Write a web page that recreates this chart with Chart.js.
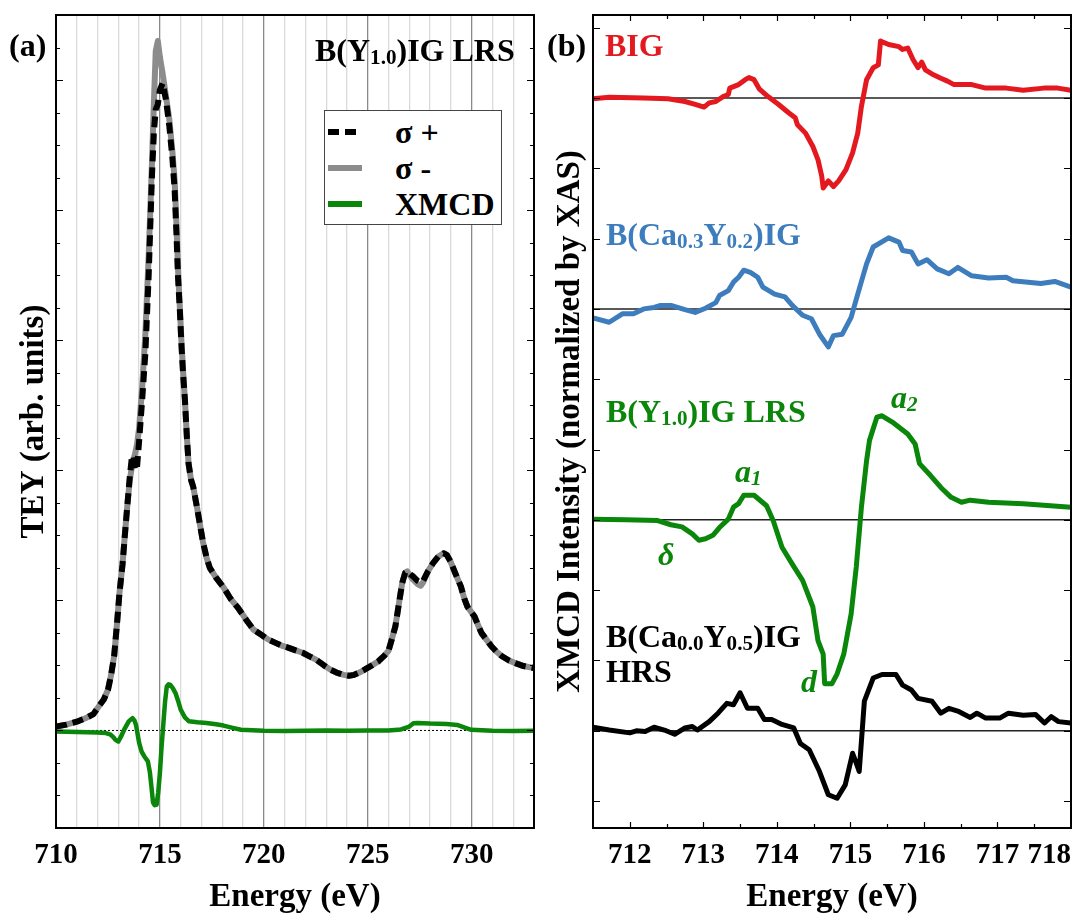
<!DOCTYPE html>
<html>
<head>
<meta charset="utf-8">
<script src="https://cdn.jsdelivr.net/npm/chart.js@4.4.1/dist/chart.umd.min.js"></script>
<style>
body{margin:0;width:1081px;height:920px;background:#fff;overflow:hidden;position:relative;
  font-family:'Liberation Serif','DejaVu Serif',serif;font-weight:bold;color:#000}
.wrap{position:absolute;top:0;height:920px}
.lbl{position:absolute;font-size:32px;line-height:32px;white-space:nowrap}
.lbl sub{font-size:0.66em;line-height:0;vertical-align:-0.16em}
.it{font-style:italic}
#legend{position:absolute;left:324px;top:110px;width:176px;height:113px;border:1.5px solid #444;background:#fff}
#legend .row{position:absolute;left:0;width:176px;height:32px}
#legend svg{position:absolute;left:3px;top:12px}
#legend span{position:absolute;left:70px;top:0;font-size:32px;line-height:32px}
</style>
</head>
<body>

<div class="wrap" style="left:0;width:545px"><canvas id="chartA"></canvas></div>
<div class="wrap" style="left:545px;width:536px"><canvas id="chartB"></canvas></div>

<!-- panel (a) texts -->
<div class="lbl" style="left:9px;top:29px">(a)</div>
<div class="lbl" style="left:315px;top:34px">B(Y<sub>1.0</sub>)IG LRS</div>
<div id="legend">
  <div class="row" style="top:5px">
    <svg width="34" height="8"><line x1="0" y1="4" x2="34" y2="4" stroke="#000" stroke-width="6" stroke-dasharray="11,6"/></svg>
    <span>σ +</span>
  </div>
  <div class="row" style="top:41px">
    <svg width="34" height="8"><line x1="0" y1="4" x2="34" y2="4" stroke="#8c8c8c" stroke-width="6"/></svg>
    <span>σ -</span>
  </div>
  <div class="row" style="top:77px">
    <svg width="34" height="8"><line x1="0" y1="4" x2="34" y2="4" stroke="#0a860a" stroke-width="6"/></svg>
    <span>XMCD</span>
  </div>
</div>

<!-- panel (b) texts -->
<div class="lbl" style="left:547px;top:29px">(b)</div>
<div class="lbl" style="left:605px;top:29px;color:#e3191f">BIG</div>
<div class="lbl" style="left:606px;top:218px;color:#3d7dbd">B(Ca<sub>0.3</sub>Y<sub>0.2</sub>)IG</div>
<div class="lbl" style="left:606px;top:395px;color:#0a860a">B(Y<sub>1.0</sub>)IG LRS</div>
<div class="lbl it" style="left:891px;top:381px;color:#0a860a">a<sub>2</sub></div>
<div class="lbl it" style="left:735px;top:455px;color:#0a860a">a<sub>1</sub></div>
<div class="lbl it" style="left:658px;top:538px;color:#0a860a">δ</div>
<div class="lbl it" style="left:801px;top:665px;color:#0a860a">d</div>
<div class="lbl" style="left:606px;top:620px">B(Ca<sub>0.0</sub>Y<sub>0.5</sub>)IG</div>
<div class="lbl" style="left:606px;top:655px">HRS</div>

<script>
// ---- panel (a): TEY spectra, energies in eV ----
let eA = [710.0,710.5,711.0,711.5,711.8,712.1,712.3,712.5,712.65,712.8,
712.95,713.05,713.2,713.3,713.43,713.55,713.65,713.72,713.8,713.9,
714.0,714.15,714.3,714.46,714.62,714.71,714.8,714.9,715.0,715.13,
715.29,715.45,715.6,715.71,715.8,715.87,715.96,716.04,716.12,716.2,
716.3,716.38,716.5,716.6,716.8,717.07,717.25,717.4,717.7,718.06,
718.4,718.72,719.0,719.22,719.5,719.88,720.2,720.54,720.9,721.2,
721.5,721.87,722.2,722.53,722.9,723.2,723.5,723.85,724.1,724.35,
724.6,724.85,725.2,725.5,725.8,726.0,726.2,726.33,726.5,726.66,
726.8,726.9,727.05,727.16,727.4,727.55,727.66,727.9,728.15,728.4,
728.65,728.8,728.98,729.2,729.48,729.65,729.8,730.14,730.3,730.47,
730.7,730.96,731.2,731.46,731.8,732.1,732.5,733.0];

let sigmaPlus = [0.12,0.18,0.27,0.4,0.5,0.78,0.95,1.25,1.7,2.3,
3.4,4.2,5.1,5.9,6.9,7.8,8.4,8.45,8.0,8.1,
8.9,10.2,11.6,14.0,17.1,18.4,19.1,19.25,19.7,19.9,
19.4,18.6,17.6,16.6,15.2,13.95,12.9,11.8,10.9,10.2,
9.0,8.2,7.7,7.5,6.8,5.8,5.3,5.0,4.7,4.4,
4.05,3.8,3.55,3.34,3.1,2.94,2.8,2.7,2.6,2.54,
2.47,2.39,2.28,2.17,2.0,1.87,1.78,1.71,1.68,1.71,
1.78,1.87,2.0,2.12,2.3,2.45,2.9,3.2,3.9,4.54,
4.85,4.89,4.8,4.75,4.6,4.55,4.6,4.9,5.15,5.35,
5.45,5.4,5.2,4.85,4.43,4.05,3.8,3.5,3.25,3.0,
2.8,2.58,2.42,2.28,2.15,2.07,1.98,1.92];

let sigmaMinus = [0.12,0.18,0.27,0.4,0.5,0.78,0.95,1.25,1.7,2.3,
3.4,4.2,5.1,5.9,6.9,7.7,8.1,8.3,8.5,8.8,
9.3,10.6,12.2,14.6,17.5,19.3,20.9,21.2,20.7,20.2,
19.5,18.8,17.8,16.9,15.5,14.2,13.0,11.9,11.0,10.2,
9.0,8.2,7.7,7.5,6.8,5.8,5.3,5.0,4.7,4.4,
4.05,3.8,3.55,3.34,3.1,2.94,2.8,2.7,2.6,2.54,
2.47,2.39,2.28,2.17,2.0,1.87,1.78,1.71,1.68,1.71,
1.78,1.87,2.0,2.12,2.3,2.45,2.9,3.2,3.9,4.54,
4.85,4.89,4.75,4.65,4.5,4.45,4.55,4.9,5.15,5.35,
5.45,5.4,5.2,4.85,4.43,4.05,3.8,3.5,3.25,3.0,
2.8,2.58,2.42,2.28,2.15,2.07,1.98,1.92];

let eXmcdA = [710.0,711.0,712.0,712.4,712.6,712.75,712.85,713.0,713.12,713.3,
713.5,713.68,713.78,713.85,714.0,714.12,714.25,714.42,714.52,714.59,
714.67,714.75,714.84,714.92,715.0,715.08,715.17,715.25,715.33,715.42,
715.5,715.62,715.75,715.88,716.0,716.2,716.4,716.8,717.24,717.7,
718.06,718.5,718.9,720.0,721.0,722.0,723.0,724.0,725.0,726.0,
726.6,727.0,727.2,727.4,728.0,728.8,729.3,729.7,729.98,731.0,
732.0,733.0];
let xmcdA = [-0.03,-0.05,-0.06,-0.08,-0.12,-0.2,-0.28,-0.34,-0.2,0.05,
0.28,0.38,0.3,0.17,-0.38,-0.65,-0.8,-0.95,-1.3,-1.72,
-2.22,-2.3,-2.28,-1.9,-1.3,-0.5,0.24,0.9,1.35,1.42,
1.4,1.3,1.15,0.9,0.64,0.4,0.28,0.25,0.23,0.19,
0.15,0.08,0.02,-0.01,-0.02,-0.01,0.0,-0.01,0.0,0.0,
0.03,0.12,0.22,0.23,0.21,0.2,0.17,0.08,0.02,-0.01,
-0.02,-0.01];

// ---- panel (b): XMCD normalized by XAS, each curve stacked on its own baseline ----
let eBig = [711.5,711.72,712.19,712.52,712.75,712.89,713.01,713.08,713.17,713.27,
713.34,713.36,713.48,713.57,713.62,713.69,713.76,713.88,714.02,714.16,
714.25,714.28,714.39,714.49,714.56,714.61,714.63,714.7,714.77,714.84,
714.94,715.03,715.1,715.15,715.22,715.31,715.38,715.41,715.45,715.52,
715.66,715.71,715.78,715.85,715.92,715.97,716.02,716.13,716.23,716.32,
716.41,716.65,716.84,717.12,717.35,717.63,717.82,718.0];
let big = [-0.01,0.01,0,-0.01,-0.05,-0.09,-0.13,-0.07,-0.05,0.02,
0.05,0.14,0.19,0.26,0.29,0.26,0.13,0.02,-0.09,-0.21,
-0.28,-0.38,-0.5,-0.69,-0.88,-1.11,-1.28,-1.18,-1.26,-1.18,
-1.02,-0.78,-0.5,-0.12,0.26,0.43,0.47,0.81,0.79,0.76,
0.73,0.69,0.71,0.55,0.43,0.51,0.4,0.33,0.28,0.24,
0.19,0.19,0.14,0.14,0.11,0.14,0.14,0.11];

let eCaY = [711.5,711.72,711.9,712.05,712.19,712.33,712.42,712.56,712.75,712.89,
713.03,713.17,713.22,713.34,713.41,713.48,713.55,713.64,713.74,713.81,
713.97,714.11,714.21,714.35,714.47,714.58,714.7,714.77,714.89,715.01,
715.1,715.22,715.31,715.52,715.66,715.71,715.83,715.92,716.04,716.18,
716.34,716.46,716.65,716.88,717.12,717.21,717.59,717.78,718.0];
let caY = [-0.13,-0.19,-0.07,-0.07,0,0.02,0.05,0.05,-0.01,-0.05,
0.01,0.09,0.19,0.26,0.38,0.45,0.55,0.52,0.45,0.31,
0.21,0.17,0.05,-0.09,-0.14,-0.36,-0.54,-0.38,-0.36,-0.12,
0.21,0.64,0.88,1.01,0.95,0.83,0.81,0.64,0.7,0.57,
0.5,0.59,0.47,0.44,0.45,0.4,0.36,0.39,0.31];

let eLrs = [711.5,711.95,712.38,712.56,712.71,712.85,712.94,713.03,713.13,713.22,
713.34,713.41,713.48,713.55,713.69,713.86,713.95,714.07,714.21,714.35,
714.49,714.56,714.63,714.65,714.75,714.82,714.91,715.01,715.08,715.15,
715.22,715.26,715.36,715.43,715.57,715.78,715.88,715.94,716.09,716.23,
716.37,716.51,716.63,716.88,717.35,718.0];
let lrs = [0.01,0,-0.01,-0.07,-0.1,-0.2,-0.29,-0.27,-0.22,-0.11,
0.01,0.18,0.23,0.35,0.35,0.2,-0.01,-0.39,-0.63,-0.86,
-1.24,-1.72,-1.91,-2.33,-2.33,-2.19,-1.91,-1.34,-0.67,0.18,
0.84,1.13,1.46,1.48,1.39,1.22,1.08,0.8,0.63,0.46,
0.32,0.25,0.28,0.25,0.23,0.18];

let eHrs = [711.5,711.72,712.0,712.09,712.21,712.33,712.47,712.61,712.75,712.85,
712.92,713.08,713.2,713.32,713.41,713.5,713.6,713.74,713.83,713.93,
714.07,714.23,714.32,714.44,714.58,714.7,714.82,714.93,715.03,715.08,
715.12,715.19,715.31,715.43,715.62,715.71,715.83,715.92,716.11,716.23,
716.34,716.46,716.63,716.72,716.84,717.03,717.15,717.35,717.52,717.64,
717.73,717.83,718.0];
let hrs = [0.05,0.01,-0.03,0,-0.01,0.05,0.01,-0.05,0.04,0.06,
0.01,0.13,0.25,0.39,0.37,0.54,0.32,0.32,0.16,0.16,
0.09,0.04,-0.18,-0.27,-0.58,-0.91,-0.96,-0.77,-0.32,-0.46,
-0.58,0.42,0.75,0.8,0.8,0.65,0.58,0.46,0.42,0.25,
0.32,0.28,0.19,0.25,0.18,0.18,0.25,0.22,0.23,0.11,
0.2,0.13,0.11];

// vertical offset of each curve in panel (b): BIG, CaY, LRS, HRS
let offsets = [9, 6, 3, 0];

// labelled energy ticks of panel (b)
let ticksB = [712, 713, 714, 715, 716, 717, 718];

let serif = "'Liberation Serif', 'DejaVu Serif', serif";
Chart.defaults.font.family = serif;
Chart.defaults.color = "#000";

function pts(xs, ys, off){
  off = off || 0;
  return xs.map((x, i) => ({x: x, y: ys[i] + off}));
}

function lineSet(label, data, color, width, dash){
  return {label: label, data: data, borderColor: color, borderWidth: width,
    borderDash: dash || [], pointRadius: 0, tension: 0, fill: false,
    borderJoinStyle: "round"};
}

/* frame + inward ticks for panel (a) */
let frameA = {
  id: "frameA",
  beforeDatasetsDraw(chart){
    let ctx = chart.ctx, a = chart.chartArea;
    let y0 = chart.scales.y.getPixelForValue(0);
    ctx.save();
    ctx.strokeStyle = "#000";
    ctx.lineWidth = 1;
    ctx.setLineDash([2, 2]);
    ctx.beginPath();
    ctx.moveTo(a.left, y0);
    ctx.lineTo(a.right, y0);
    ctx.stroke();
    ctx.restore();
  },
  afterDraw(chart){
    let ctx = chart.ctx, a = chart.chartArea, ys = chart.scales.y;
    ctx.save();
    ctx.strokeStyle = "#000";
    ctx.lineWidth = 1.2;
    for(let v = -2; v <= 21; v++){
      let p = Math.round(ys.getPixelForValue(v)) + 0.5;
      let len = (v % 4 === 0) ? 7 : 4;
      ctx.beginPath();
      ctx.moveTo(a.left, p); ctx.lineTo(a.left + len, p);
      ctx.moveTo(a.right, p); ctx.lineTo(a.right - len, p);
      ctx.stroke();
    }
    ctx.lineWidth = 2;
    ctx.strokeRect(a.left, a.top, a.right - a.left, a.bottom - a.top);
    ctx.restore();
  }
};

/* baselines, frame + inward ticks for panel (b) */
let frameB = {
  id: "frameB",
  beforeDatasetsDraw(chart){
    let ctx = chart.ctx, a = chart.chartArea, ys = chart.scales.y;
    ctx.save();
    ctx.strokeStyle = "#222";
    ctx.lineWidth = 1.5;
    offsets.forEach(o => {
      let p = ys.getPixelForValue(o);
      ctx.beginPath();
      ctx.moveTo(a.left, p);
      ctx.lineTo(a.right, p);
      ctx.stroke();
    });
    ctx.restore();
  },
  afterDraw(chart){
    let ctx = chart.ctx, a = chart.chartArea, ys = chart.scales.y, xs = chart.scales.x;
    ctx.save();
    ctx.strokeStyle = "#000";
    ctx.lineWidth = 1.2;
    for(let v = -1; v <= 10; v++){
      let p = Math.round(ys.getPixelForValue(v)) + 0.5;
      ctx.beginPath();
      ctx.moveTo(a.left, p); ctx.lineTo(a.left + 7, p);
      ctx.moveTo(a.right, p); ctx.lineTo(a.right - 7, p);
      ctx.stroke();
    }
    for(let e = 712; e < 718; e += 0.5){
      let p = Math.round(xs.getPixelForValue(e)) + 0.5;
      let len = (e % 1 === 0) ? 6 : 4;
      ctx.beginPath();
      ctx.moveTo(p, a.bottom); ctx.lineTo(p, a.bottom - len);
      ctx.moveTo(p, a.top); ctx.lineTo(p, a.top + len);
      ctx.stroke();
    }
    ctx.lineWidth = 2;
    ctx.strokeRect(a.left, a.top, a.right - a.left, a.bottom - a.top);
    ctx.restore();
  }
};

let tickFont = {family: serif, size: 29, weight: "bold"};
let titleFont = {family: serif, size: 33, weight: "bold"};

/* Panel (a) */
new Chart(document.getElementById("chartA"), {
  type: "line",
  data: {
    datasets: [
      lineSet("σ +", pts(eA, sigmaPlus), "#000", 6, [11, 6]),
      lineSet("σ -", pts(eA, sigmaMinus), "#8c8c8c", 6),
      lineSet("XMCD", pts(eXmcdA, xmcdA), "#0a860a", 4.5)
    ]
  },
  options: {
    responsive: true,
    maintainAspectRatio: false,
    animation: false,
    devicePixelRatio: 1,
    layout: {padding: {top: 15, right: 11, bottom: 0, left: 0}},
    plugins: {legend: {display: false}, tooltip: {enabled: false}},
    scales: {
      x: {
        type: "linear", min: 710, max: 733,
        border: {display: false},
        grid: {
          drawTicks: false,
          lineWidth: 1.3,
          color: c => (Math.round(c.tick.value) % 5 === 0) ? "#8a8a8a" : "#dadada"
        },
        ticks: {
          stepSize: 1, autoSkip: false, maxRotation: 0, padding: 10, font: tickFont,
          callback: v => (Math.round(v) % 5 === 0 && v < 733) ? Math.round(v) : ""
        },
        title: {display: true, text: "Energy (eV)", font: titleFont, padding: {top: 0, bottom: 3}},
        afterFit: s => { s.height = 92; }
      },
      y: {
        min: -3, max: 22,
        border: {display: false},
        grid: {display: false},
        ticks: {display: false},
        title: {display: true, text: "TEY (arb. units)", font: titleFont, padding: {top: 15, bottom: 0}},
        afterFit: s => { s.width = 56; }
      }
    }
  },
  plugins: [frameA]
});

/* Panel (b) */
new Chart(document.getElementById("chartB"), {
  type: "line",
  data: {
    datasets: [
      lineSet("BIG", pts(eBig, big, offsets[0]), "#e3191f", 5),
      lineSet("B(Ca0.3Y0.2)IG", pts(eCaY, caY, offsets[1]), "#3d7dbd", 5),
      lineSet("B(Y1.0)IG LRS", pts(eLrs, lrs, offsets[2]), "#0a860a", 5),
      lineSet("B(Ca0.0Y0.5)IG HRS", pts(eHrs, hrs, offsets[3]), "#000", 5)
    ]
  },
  options: {
    responsive: true,
    maintainAspectRatio: false,
    animation: false,
    devicePixelRatio: 1,
    layout: {padding: {top: 15, right: 10, bottom: 0, left: 0}},
    plugins: {legend: {display: false}, tooltip: {enabled: false}},
    scales: {
      x: {
        type: "linear", min: 711.5, max: 718,
        border: {display: false},
        grid: {display: false, drawTicks: false},
        // first (empty) tick at the left edge so that "inner" only shifts the last label
        afterBuildTicks: s => { s.ticks = [{value: 711.5}].concat(ticksB.map(v => ({value: v}))); },
        ticks: {
          autoSkip: false, maxRotation: 0, padding: 10, font: tickFont, align: "inner",
          callback: v => (v === 711.5) ? "" : v
        },
        title: {display: true, text: "Energy (eV)", font: titleFont, padding: {top: 0, bottom: 3}},
        afterFit: s => { s.height = 92; }
      },
      y: {
        min: -1.383, max: 10.18,
        border: {display: false},
        grid: {display: false},
        ticks: {display: false},
        title: {display: true, text: "XMCD Intensity (normalized by XAS)", font: titleFont, padding: {top: 6, bottom: 0}},
        afterFit: s => { s.width = 48; }
      }
    }
  },
  plugins: [frameB]
});
</script>
</body>
</html>
